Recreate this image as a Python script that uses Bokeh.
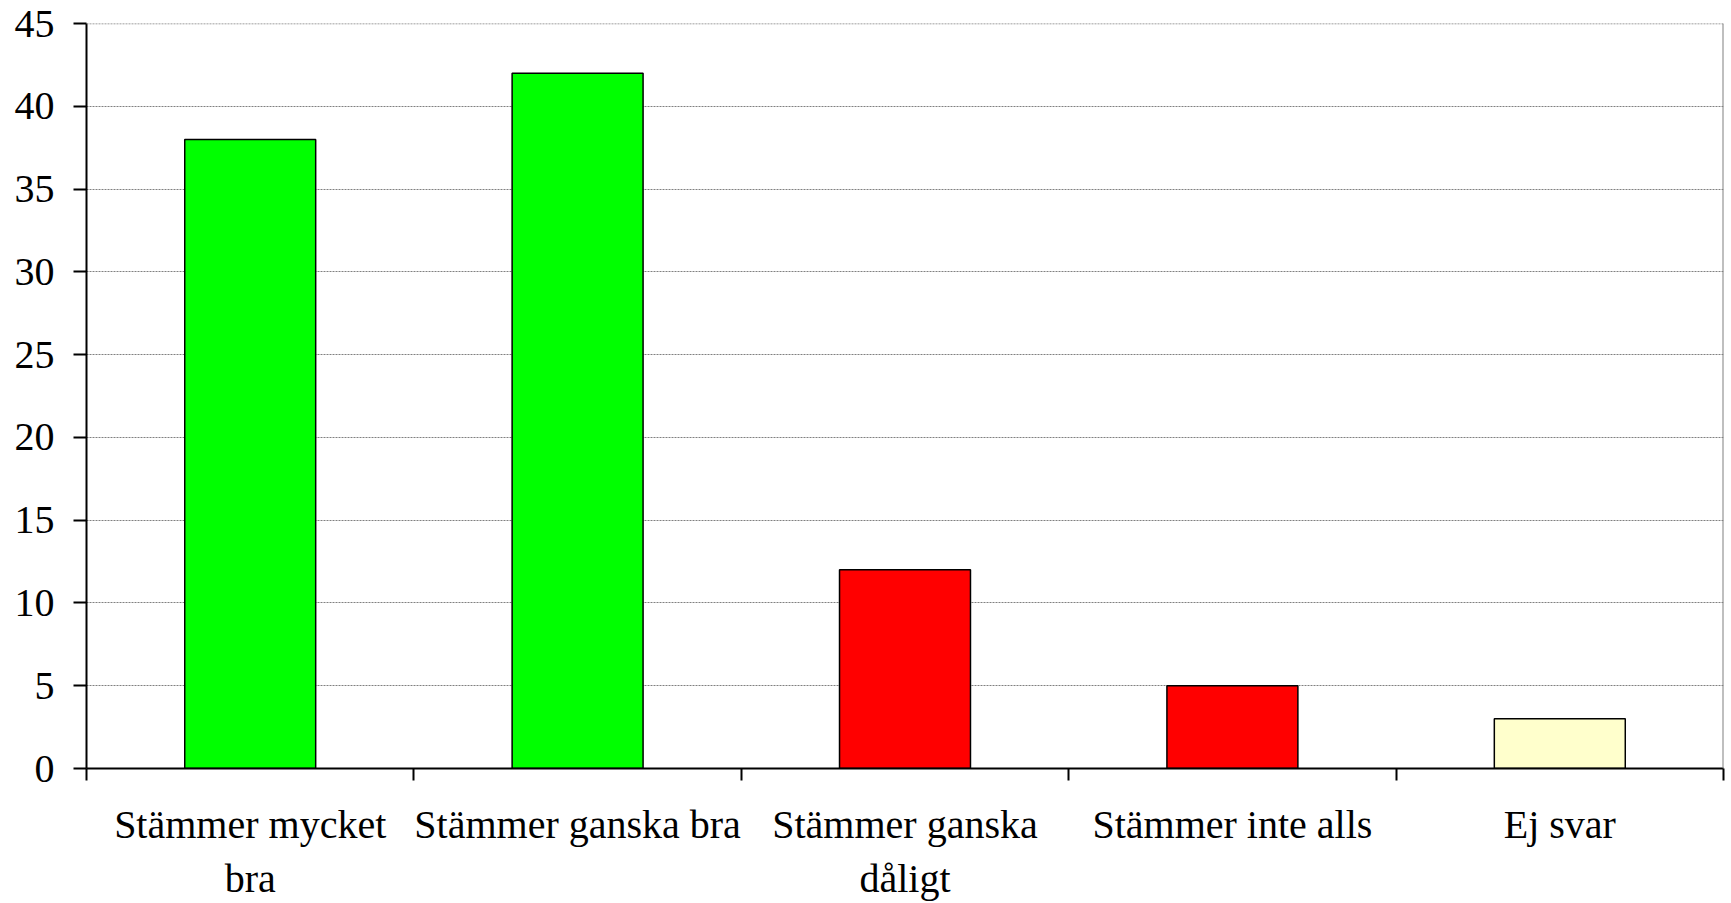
from bokeh.plotting import figure
from bokeh.models import Range1d, FixedTicker, Span, ColumnDataSource
from bokeh.embed import file_html
from bokeh.resources import INLINE

categories = ["Stämmer mycket\nbra", "Stämmer ganska bra", "Stämmer ganska\ndåligt",
              "Stämmer inte alls", "Ej svar"]
values = [38, 42, 12, 5, 3]
colors = ["#00FF00", "#00FF00", "#FF0000", "#FF0000", "#FFFFCC"]
y_ticks = [0, 5, 10, 15, 20, 25, 30, 35, 40, 45]

n = len(categories)
centers = [i + 0.5 for i in range(n)]
bounds = list(range(n + 1))

src = ColumnDataSource(dict(x=centers, top=values, color=colors, label=categories))

p = figure(width=1725, height=903, output_backend="svg", toolbar_location=None,
           x_range=Range1d(0, n), y_range=Range1d(0, 45),
           min_border_left=86, min_border_top=23, min_border_right=2, min_border_bottom=134)

p.vbar(x="x", top="top", width=0.4, fill_color="color", line_color="black",
       line_width=1.5, source=src)

p.outline_line_color = None
p.add_layout(Span(location=n, dimension="height", line_color="#808080", line_width=2))
p.add_layout(Span(location=y_ticks[-1], dimension="width", line_color="#808080",
                  line_width=1.5, line_dash="2 1"))

font = "Liberation Serif"

# y axis
p.yaxis.ticker = FixedTicker(ticks=y_ticks)
p.yaxis.axis_line_color = "black"
p.yaxis.axis_line_width = 2
p.yaxis.major_tick_line_width = 2
p.yaxis.major_tick_line_color = "black"
p.yaxis.major_tick_out = 13
p.yaxis.major_tick_in = 0
p.yaxis.minor_tick_line_color = None
p.yaxis.major_label_text_font = font
p.yaxis.major_label_text_font_size = "40px"
p.yaxis.major_label_text_color = "black"
p.yaxis.major_label_standoff = 19

# x axis
p.xaxis.ticker = FixedTicker(ticks=centers, minor_ticks=bounds)
p.xaxis.major_label_overrides = {c: lab for c, lab in zip(centers, categories)}
p.xaxis.axis_line_color = "black"
p.xaxis.axis_line_width = 2
p.xaxis.major_tick_line_color = None
p.xaxis.major_tick_out = 12
p.xaxis.major_tick_in = 0
p.xaxis.minor_tick_line_color = "black"
p.xaxis.minor_tick_line_width = 2
p.xaxis.minor_tick_out = 12
p.xaxis.minor_tick_in = 0
p.xaxis.major_label_text_font = font
p.xaxis.major_label_text_font_size = "40px"
p.xaxis.major_label_text_color = "black"
p.xaxis.major_label_standoff = 21

# grid
p.xgrid.grid_line_color = None
p.ygrid.ticker = FixedTicker(ticks=y_ticks)
p.ygrid.grid_line_color = "#808080"
p.ygrid.grid_line_dash = "2 1"
p.ygrid.grid_line_width = 1

p.background_fill_color = "white"
p.border_fill_color = "white"

open("out.html", "w").write(file_html(p, INLINE))
